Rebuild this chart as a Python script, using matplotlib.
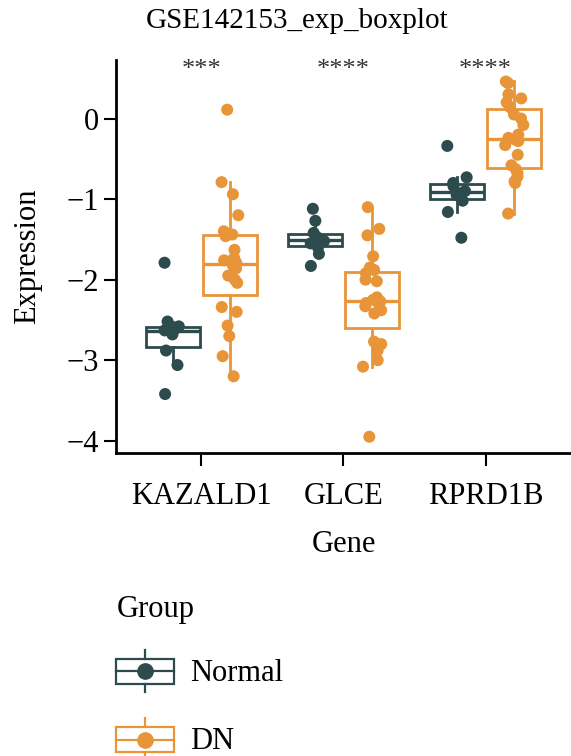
import numpy as np
import matplotlib.pyplot as plt
from matplotlib.patches import Rectangle
from matplotlib.lines import Line2D
from matplotlib.legend_handler import HandlerBase

plt.rcParams['font.family'] = ['Liberation Serif', 'DejaVu Serif']

genes = ['KAZALD1', 'GLCE', 'RPRD1B']
groups = ['Normal', 'DN']
colors = {'Normal': '#2D4A4D', 'DN': '#E8953A'}
stars = ['***', '****', '****']

# expression values
kazald1_normal = [-1.79, -2.52, -2.58, -2.62, -2.63, -2.65, -2.68, -2.88, -3.06, -3.42]
kazald1_dn = [0.11, -0.79, -0.94, -1.20, -1.40, -1.44, -1.46, -1.63, -1.73, -1.76, -1.79,
              -1.81, -1.83, -1.86, -1.95, -2.00, -2.04, -2.34, -2.40, -2.57, -2.70, -2.95, -3.20]
glce_normal = [-1.12, -1.27, -1.42, -1.47, -1.50, -1.52, -1.55, -1.60, -1.68, -1.83]
glce_dn = [-1.10, -1.37, -1.45, -1.71, -1.85, -1.88, -1.92, -2.00, -2.02, -2.22, -2.25,
           -2.27, -2.29, -2.30, -2.33, -2.38, -2.42, -2.77, -2.80, -2.88, -3.00, -3.08, -3.95]
rprd1b_normal = [-0.34, -0.73, -0.80, -0.84, -0.90, -0.93, -0.95, -1.02, -1.16, -1.48]
rprd1b_dn = [0.46, 0.44, 0.30, 0.25, 0.20, 0.14, 0.05, 0.00, -0.08, -0.20, -0.24, -0.26,
             -0.28, -0.33, -0.45, -0.58, -0.63, -0.68, -0.72, -0.78, -0.80, -1.18]

data = {
    'Normal': [kazald1_normal, glce_normal, rprd1b_normal],
    'DN': [kazald1_dn, glce_dn, rprd1b_dn],
}


class BoxHandler(HandlerBase):
    def create_artists(self, legend, orig_handle, xdescent, ydescent,
                       width, height, fontsize, trans):
        c = orig_handle.get_color()
        cx = width / 2 - xdescent
        cy = height / 2 - ydescent
        bh = height * 0.6
        box = Rectangle((-xdescent, cy - bh / 2), width, bh, fc='white', ec=c, lw=1.6, transform=trans)
        mid = Line2D([-xdescent, width - xdescent], [cy, cy], color=c, lw=1.6, transform=trans)
        w1 = Line2D([cx, cx], [cy + bh / 2, height - ydescent], color=c, lw=1.6, transform=trans)
        w2 = Line2D([cx, cx], [-ydescent, cy - bh / 2], color=c, lw=1.6, transform=trans)
        dot = Line2D([cx], [cy], marker='o', ms=11, color=c, lw=0, transform=trans)
        return [box, mid, w1, w2, dot]


fig = plt.figure(figsize=(5.71, 7.56), dpi=100)
ax = fig.add_axes([0.203, 0.401, 0.797, 0.52])

x = np.arange(len(genes))
offsets = {'Normal': -0.2, 'DN': 0.2}
rng = np.random.default_rng(3)

for g in groups:
    c = colors[g]
    pos = x + offsets[g]
    ax.boxplot(data[g], positions=pos, widths=0.38, showfliers=False, patch_artist=True,
               boxprops=dict(facecolor='white', edgecolor=c, linewidth=2),
               medianprops=dict(color=c, linewidth=2.4),
               whiskerprops=dict(color=c, linewidth=2),
               capprops=dict(linewidth=0), manage_ticks=False, zorder=2)
    for p, vals in zip(pos, data[g]):
        jit = rng.uniform(-0.07, 0.07, len(vals))
        ax.scatter(p + jit, vals, s=75, color=c, edgecolor='none', zorder=3)

for xi, s in zip(x, stars):
    ax.text(xi, 0.60, s, ha='center', va='center', fontsize=19, color='#333333')

ax.set_xlim(-0.6, 2.6)
ax.set_ylim(-4.15, 0.73)
ax.set_xticks(x)
ax.set_xticklabels(genes)
ax.set_yticks([-4, -3, -2, -1, 0])
ax.set_yticklabels(['\u22124', '\u22123', '\u22122', '\u22121', '0'])
ax.tick_params(labelsize=22, length=9, width=1.5, colors='black')
ax.tick_params(axis='x', pad=12)
ax.tick_params(axis='y', pad=3)
for sp in ['top', 'right']:
    ax.spines[sp].set_visible(False)
for sp in ['left', 'bottom']:
    ax.spines[sp].set_linewidth(2)
ax.set_xlabel('Gene', fontsize=22, labelpad=14)
ax.set_ylabel('Expression', fontsize=22, labelpad=18)
ax.set_title('GSE142153_exp_boxplot', fontsize=21, pad=23, x=0.398)

handles = [Line2D([], [], color=colors[g]) for g in groups]
fig.legend(handles, groups, handler_map={Line2D: BoxHandler()}, loc='upper left',
           bbox_to_anchor=(0.161, 0.245), frameon=False, fontsize=22, title='Group',
           title_fontsize=22, alignment='left', handlelength=1.9, handleheight=1.75,
           labelspacing=0.85, handletextpad=0.5, borderpad=0.3)

fig.savefig('out.png', dpi=100)
